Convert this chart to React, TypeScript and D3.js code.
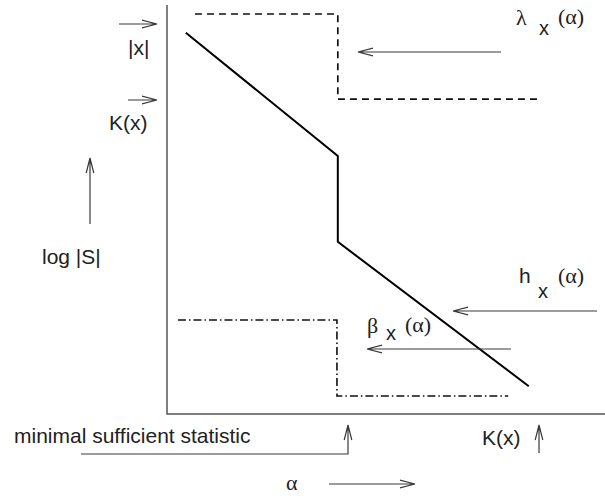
import React from "react";
import * as d3 from "d3";

// ---- data (alpha, log|S|) in abstract units ----
const ALPHA_H = [0.43, 3.9, 3.9, 8.26];
const LOGS_H = [9.32, 6.31, 4.21, 0.68];
const ALPHA_LAMBDA = [0.64, 3.9, 3.9, 8.47];
const LOGS_LAMBDA = [9.78, 9.78, 7.7, 7.7];
const ALPHA_BETA = [0.25, 3.88, 3.88, 7.79];
const LOGS_BETA = [2.3, 2.3, 0.44, 0.44];
const DOMAIN_ALPHA = [0, 10];
const DOMAIN_LOGS = [0, 10];

const W = 605;
const H = 496;
const SANS = "'Liberation Sans', Arial, Helvetica, sans-serif";
const SERIF = "'Liberation Serif', 'Times New Roman', serif";
const ARROW = "#3a3a3a";

type Pt = [number, number];

function arrowPath(pts: Pt[], head = 15, half = 3.8): string {
  const line = d3.line()(pts) as string;
  const [tx, ty] = pts[pts.length - 1];
  const [px, py] = pts[pts.length - 2];
  const a = Math.atan2(ty - py, tx - px);
  const bx = tx - head * Math.cos(a);
  const by = ty - head * Math.sin(a);
  const nx = -Math.sin(a) * half;
  const ny = Math.cos(a) * half;
  return `${line}M${bx + nx},${by + ny}L${tx},${ty}L${bx - nx},${by - ny}`;
}

export default function App() {
  const x = d3.scaleLinear().domain(DOMAIN_ALPHA).range([167, 605]);
  const y = d3.scaleLinear().domain(DOMAIN_LOGS).range([414, 5]);
  const line = d3
    .line<[number, number]>()
    .x((d) => x(d[0]))
    .y((d) => y(d[1]));
  const zip = (a: number[], b: number[]) => a.map((v, i) => [v, b[i]] as [number, number]);

  const arrows: Pt[][] = [
    [[501, 52], [358, 52]],
    [[597, 311], [453, 311]],
    [[511, 349], [367, 349]],
    [[119, 24], [157, 24]],
    [[128, 100], [157, 100]],
    [[90, 224], [90, 158]],
    [[81, 454], [348, 454], [348, 425]],
    [[539, 453], [539, 425]],
    [[329, 484], [415, 484]],
  ];

  return (
    <svg
      width={W}
      height={H}
      style={{ position: "absolute", left: 0, top: 0, background: "#fff" }}
    >
      {/* axes */}
      <path
        d={`M${x(0)},${y(DOMAIN_LOGS[1])}L${x(0)},${y(0)}L${x(DOMAIN_ALPHA[1])},${y(0)}`}
        fill="none"
        stroke="#555"
        strokeWidth={1.5}
      />
      {/* lambda: dashed */}
      <path
        d={line(zip(ALPHA_LAMBDA, LOGS_LAMBDA)) as string}
        fill="none"
        stroke="#111"
        strokeWidth={1.7}
        strokeDasharray="7,5"
      />
      {/* beta: dash-dot */}
      <path
        d={line(zip(ALPHA_BETA, LOGS_BETA)) as string}
        fill="none"
        stroke="#111"
        strokeWidth={1.6}
        strokeDasharray="8,3,1.5,3"
      />
      {/* h: solid */}
      <path
        d={line(zip(ALPHA_H, LOGS_H)) as string}
        fill="none"
        stroke="#000"
        strokeWidth={2}
      />
      {arrows.map((p, i) => (
        <path key={i} d={arrowPath(p)} fill="none" stroke={ARROW} strokeWidth={1.2} />
      ))}
      <g fontFamily={SANS} fontSize={21} fill="#222">
        <text x={128} y={55}>|x|</text>
        <text x={109} y={130}>K(x)</text>
        <text x={42} y={264}>log |S|</text>
        <text x={14} y={443}>minimal sufficient statistic</text>
        <text x={482} y={445}>K(x)</text>
        <text x={539} y={35} fontSize={20}>x</text>
        <text x={538} y={298} fontSize={20}>x</text>
        <text x={386} y={340} fontSize={20}>x</text>
        <text x={519} y={283}>h</text>
      </g>
      <g fontFamily={SERIF} fontSize={22} fill="#222">
        <text x={286} y={490}>α</text>
        <text x={516} y={25}>λ</text>
        <text x={558} y={24}>(α)</text>
        <text x={558} y={283}>(α)</text>
        <text x={367} y={333}>β</text>
        <text x={405} y={332}>(α)</text>
      </g>
    </svg>
  );
}
